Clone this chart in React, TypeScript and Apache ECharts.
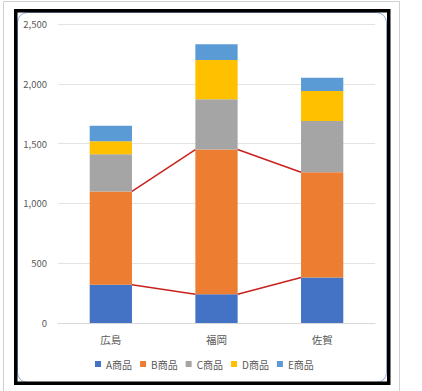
import React, { useEffect, useRef } from "react";
import * as echarts from "echarts";

const categories = ["広島", "福岡", "佐賀"];
const seriesNames = ["A商品", "B商品", "C商品", "D商品", "E商品"];
const seriesA = [320, 240, 380];
const seriesB = [780, 1210, 880];
const seriesC = [310, 420, 430];
const seriesD = [110, 330, 250];
const seriesE = [130, 130, 110];
const yTicks = { min: 0, max: 2500, interval: 500 };

const colors = ["#4472C4", "#ED7D31", "#A5A5A5", "#FFC000", "#5B9BD5"];
const FONT = "'Noto Sans CJK JP', 'Noto Sans', sans-serif";

export default function App() {
  const ref = useRef<HTMLDivElement>(null);
  useEffect(() => {
    if (!ref.current) return;
    const chart = echarts.init(ref.current, undefined, { renderer: "svg" });
    const values = [seriesA, seriesB, seriesC, seriesD, seriesE];
    const cumA = seriesA.slice();
    const cumB = seriesA.map((v, i) => v + seriesB[i]);
    const lineData: number[][] = [];
    for (let i = 0; i < categories.length - 1; i++) {
      lineData.push([i, cumA[i], cumA[i + 1]]);
      lineData.push([i, cumB[i], cumB[i + 1]]);
    }
    const barRatio = 0.4;
    chart.setOption({
      animation: false,
      backgroundColor: "#ffffff",
      textStyle: { fontFamily: FONT },
      grid: { left: 58, right: 47, top: 24, bottom: 68 },
      legend: {
        data: seriesNames,
        left: 90,
        top: 354,
        itemWidth: 6,
        itemHeight: 6,
        itemGap: 8,
        icon: "rect",
        textStyle: { fontSize: 10, color: "#595959", fontFamily: FONT },
      },
      xAxis: {
        type: "category",
        data: categories,
        axisLine: { lineStyle: { color: "#d9d9d9", width: 1 } },
        axisTick: { show: false },
        axisLabel: { fontSize: 10.5, color: "#595959", margin: 11, fontFamily: FONT },
      },
      yAxis: {
        type: "value",
        min: yTicks.min,
        max: yTicks.max,
        interval: yTicks.interval,
        axisLine: { show: false },
        axisTick: { show: false },
        splitLine: { lineStyle: { color: "#e3e3e3", width: 1.2 } },
        axisLabel: {
          fontSize: 9.5,
          color: "#595959",
          margin: 11,
          fontFamily: FONT,
          formatter: (v: number) => v.toLocaleString("en-US"),
        },
      },
      series: [
        ...values.map((d, k) => ({
          name: seriesNames[k],
          type: "bar",
          stack: "total",
          barWidth: "40%",
          data: d,
          itemStyle: { color: colors[k] },
        })),
        {
          type: "custom",
          name: "seriesLines",
          data: lineData,
          encode: { x: 0, y: [1, 2] },
          z: 5,
          renderItem: (params: any, api: any) => {
            const i = api.value(0);
            const p1 = api.coord([i, api.value(1)]);
            const p2 = api.coord([i + 1, api.value(2)]);
            const half = (api.size([1, 0])[0] * barRatio) / 2;
            return {
              type: "line",
              shape: { x1: p1[0] + half, y1: p1[1], x2: p2[0] - half, y2: p2[1] },
              style: { stroke: "#C9211E", lineWidth: 1.5 },
            };
          },
        },
      ],
      graphic: [
        {
          type: "rect",
          z: 10,
          shape: { x: 3.5, y: 1.5, width: 396, height: 400 },
          style: { fill: "none", stroke: "#d0d0d0", lineWidth: 1 },
          silent: true,
        },
        {
          type: "rect",
          z: 11,
          shape: { x: 17.5, y: 12.5, width: 369, height: 370, r: 10 },
          style: { fill: "none", stroke: "#8faadc", lineWidth: 1 },
          silent: true,
        },
        {
          type: "rect",
          z: 12,
          shape: { x: 15.75, y: 10.75, width: 373, height: 372.5 },
          style: { fill: "none", stroke: "#000000", lineWidth: 3.5 },
          silent: true,
        },
      ],
    });
    return () => chart.dispose();
  }, []);
  return (
    <div
      ref={ref}
      style={{ position: "fixed", left: 0, top: 0, width: 422, height: 391 }}
    />
  );
}
